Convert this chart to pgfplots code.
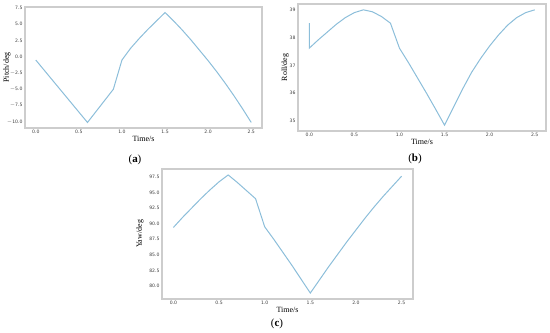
\documentclass[border=0pt]{standalone}
\usepackage{pgfplots}
\pgfplotsset{compat=1.18}
\usepackage{fontspec}
\setmainfont{Liberation Serif}
\newfontfamily\tickfont{DejaVu Sans}
\definecolor{lineblue}{RGB}{140,190,218}
\definecolor{framegray}{RGB}{205,205,205}
\pgfplotsset{
  panel/.style={
    scale only axis,
    anchor=south west,
    xmin=-0.125, xmax=2.625,
    xtick={0,0.5,1,1.5,2,2.5},
    xticklabels={0.0,0.5,1.0,1.5,2.0,2.5},
    major tick length=0pt,
    axis line style={framegray, line width=1.1bp},
    tick label style={font=\tickfont\fontsize{4.6}{5}\selectfont, text=black!75},
    xticklabel style={yshift=1bp},
    yticklabel style={xshift=1bp},
    label style={font=\fontsize{8}{9}\selectfont},
    xlabel={Time/s},
    xlabel style={yshift=5bp},
    /pgf/number format/assume math mode=true,
  },
  curve/.style={lineblue, line width=1bp, mark=none},
}
\begin{document}
\begin{tikzpicture}
\path[use as bounding box] (0bp,0bp) rectangle (550bp,333bp);
% (a) Pitch
\begin{axis}[panel, at={(25bp,205bp)}, width=237bp, height=121bp,
  ymin=-10.95, ymax=7.65,
  ytick={-10,-7.5,-5,-2.5,0,2.5,5,7.5},
  yticklabels={$-$10.0,$-$7.5,$-$5.0,$-$2.5,0.0,2.5,5.0,7.5},
  ylabel={Pitch/deg},
  ylabel style={at={(axis description cs:-0.076,0.5)}, anchor=center}]
\addplot[curve] coordinates {
(0.0,-0.5) (0.1,-2.1) (0.2,-3.7) (0.3,-5.3) (0.4,-6.9) (0.5,-8.5) (0.6,-10.1)
(0.7,-8.4) (0.8,-6.7) (0.9,-5.0) (1.0,-0.5) (1.1,1.3) (1.2,2.8) (1.3,4.2)
(1.4,5.5) (1.5,6.8) (1.6,5.5) (1.7,4.1) (1.8,2.6) (1.9,1.0) (2.0,-0.6)
(2.1,-2.3) (2.2,-4.1) (2.3,-6.0) (2.4,-8.0) (2.5,-10.1)};
\end{axis}
% (b) Roll
\begin{axis}[panel, at={(298bp,202bp)}, width=248bp, height=127bp,
  ymin=34.64, ymax=39.21,
  ytick={35,36,37,38,39},
  ylabel={Roll/deg},
  ylabel style={at={(axis description cs:-0.052,0.5)}, anchor=center}]
\addplot[curve] coordinates {
(0.0,38.52) (0.0,37.62) (0.1,37.92) (0.2,38.2) (0.3,38.48) (0.4,38.72)
(0.5,38.9) (0.6,39.0) (0.7,38.93) (0.8,38.76) (0.9,38.52) (1.0,37.62)
(1.1,37.1) (1.2,36.55) (1.3,36.0) (1.4,35.43) (1.5,34.85) (1.6,35.5)
(1.7,36.15) (1.8,36.75) (1.9,37.25) (2.0,37.7) (2.1,38.1) (2.2,38.45)
(2.3,38.72) (2.4,38.9) (2.5,39.0)};
\end{axis}
% (c) Yaw
\begin{axis}[panel, at={(162bp,34bp)}, width=251bp, height=130bp,
  ymin=77.95, ymax=98.75,
  ytick={80,82.5,85,87.5,90,92.5,95,97.5},
  yticklabels={80.0,82.5,85.0,87.5,90.0,92.5,95.0,97.5},
  ylabel={Yaw/deg},
  ylabel style={at={(axis description cs:-0.088,0.5)}, anchor=center}]
\addplot[curve] coordinates {
(0.0,89.4) (0.1,91.0) (0.2,92.5) (0.3,94.0) (0.4,95.4) (0.5,96.7) (0.6,97.8)
(0.7,96.6) (0.8,95.3) (0.9,94.0) (1.0,89.5) (1.1,87.5) (1.2,85.4) (1.3,83.3)
(1.4,81.1) (1.5,78.9) (1.6,81.0) (1.7,83.1) (1.8,85.1) (1.9,87.1) (2.0,89.0)
(2.1,90.9) (2.2,92.7) (2.3,94.4) (2.4,96.0) (2.5,97.6)};
\end{axis}
\node[font=\fontsize{11}{13}\selectfont] at (135bp,173bp) {(\textbf{a})};
\node[font=\fontsize{11}{13}\selectfont] at (415bp,174bp) {(\textbf{b})};
\node[font=\fontsize{11}{13}\selectfont] at (277bp,9bp) {(\textbf{c})};
\end{tikzpicture}
\end{document}
